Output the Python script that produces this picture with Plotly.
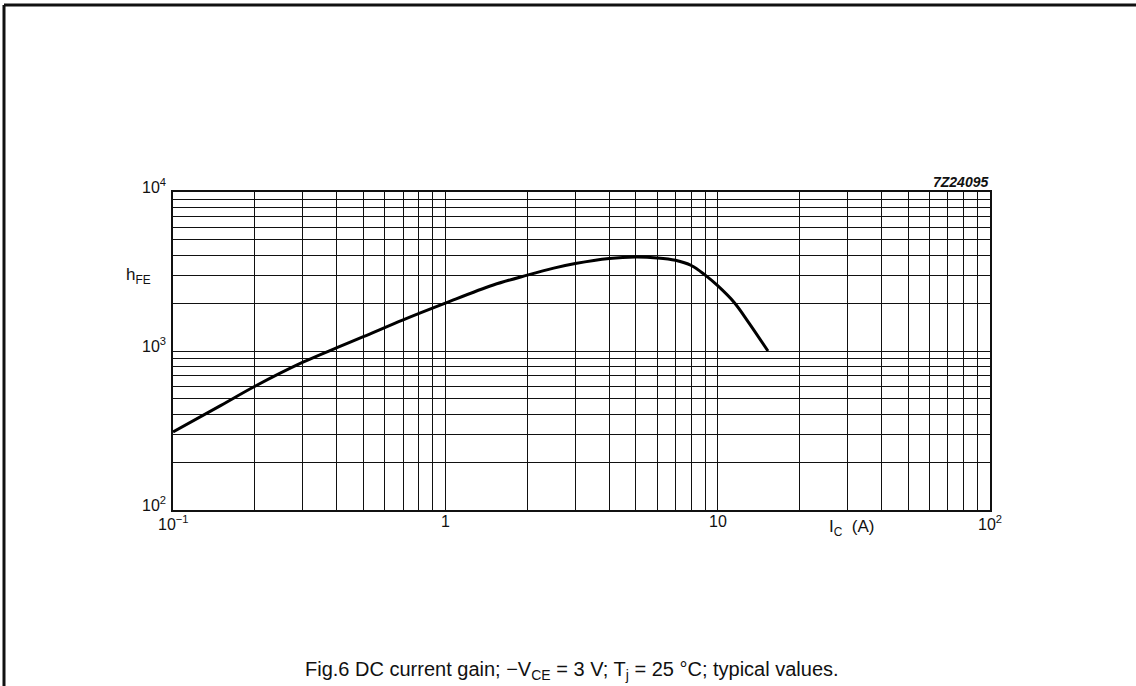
import math
import plotly.graph_objects as go

# DC current gain, typical values
ic_amps = [0.1, 0.15, 0.2, 0.3, 0.4, 0.5, 0.7, 1, 1.5, 2, 2.5, 3, 4, 5, 6, 7, 8, 9, 10, 11.5, 13, 15.3]
hfe = [310, 455, 600, 850, 1050, 1230, 1570, 2000, 2600, 3000, 3320, 3550, 3820, 3900, 3850, 3720, 3450,
       3000, 2575, 2020, 1510, 1000]

# log grid: every 1..9 multiple in each decade
x_decades = [0.1, 1, 10]
y_decades = [100, 1000]
x_grid = [d * m for d in x_decades for m in range(1, 10)] + [100]
y_grid = [d * m for d in y_decades for m in range(1, 10)] + [10000]

x_labels = [(0.1, "10<sup>−1</sup>"), (1, "1"), (10, "10"), (100, "10<sup>2</sup>")]
y_labels = [(100, "10<sup>2</sup>"), (1000, "10<sup>3</sup>"), (10000, "10<sup>4</sup>")]

FONT = "Liberation Sans, Arial, Helvetica, sans-serif"
INK = "#111"

fig = go.Figure()
fig.add_trace(go.Scatter(
    x=ic_amps, y=hfe, mode="lines",
    line=dict(color="black", width=3, shape="spline", smoothing=1.0),
    hoverinfo="skip", showlegend=False,
))

axis_common = dict(
    showgrid=True, gridcolor=INK, gridwidth=1.3,
    showticklabels=False, ticks="", zeroline=False,
    showline=True, linecolor=INK, linewidth=1.6, mirror=True,
    tickmode="array",
)
fig.update_xaxes(type="log", range=[-1, 2], tickvals=x_grid, **axis_common)
fig.update_yaxes(type="log", range=[2, 4], tickvals=y_grid, **axis_common)

ann = []
for v, t in x_labels:
    ann.append(dict(x=math.log10(v), y=0, xref="x", yref="paper",
                    text=t, showarrow=False, yanchor="top", yshift=-1,
                    font=dict(size=16, color=INK, family=FONT)))
for v, t in y_labels:
    ann.append(dict(x=0, y=math.log10(v), xref="paper", yref="y",
                    text=t, showarrow=False, xanchor="right", xshift=-5, yshift=6,
                    font=dict(size=16, color=INK, family=FONT)))
ann.append(dict(x=(876 - 173) / 817, y=0, xref="paper", yref="paper",
                text="I<sub>C</sub>  (A)", showarrow=False, yanchor="top", yshift=-5,
                font=dict(size=17, color=INK, family=FONT)))
ann.append(dict(x=(124 - 173) / 817, y=(510 - 263) / 318, xref="paper", yref="paper",
                text="h<sub>FE</sub>", showarrow=False,
                font=dict(size=17, color=INK, family=FONT)))
ann.append(dict(x=1, y=1, xref="paper", yref="paper", xanchor="right", yanchor="bottom",
                text="<b><i>7Z24095</i></b>", showarrow=False, yshift=0,
                font=dict(size=14, color=INK, family=FONT)))
ann.append(dict(x=(572 - 173) / 817, y=(510 - 685) / 318, xref="paper", yref="paper",
                text="Fig.6 DC current gain; −V<sub>CE</sub> = 3 V; T<sub>j</sub> = 25 °C; typical values.",
                showarrow=False, font=dict(size=20, color=INK, family=FONT)))

# page frame (top and left edges)
shapes = [
    dict(type="line", xref="paper", yref="paper",
         x0=(4 - 173) / 817, x1=(1140 - 173) / 817,
         y0=(510 - 5) / 318, y1=(510 - 5) / 318,
         line=dict(color=INK, width=3)),
    dict(type="line", xref="paper", yref="paper",
         x0=(4 - 173) / 817, x1=(4 - 173) / 817,
         y0=(510 - 5) / 318, y1=(510 - 690) / 318,
         line=dict(color=INK, width=3)),
]

fig.update_layout(
    width=1136, height=686,
    margin=dict(l=173, r=146, t=192, b=176),
    paper_bgcolor="white", plot_bgcolor="white",
    annotations=ann, shapes=shapes,
    font=dict(family=FONT, color=INK),
)

fig.write_html("out.html")
